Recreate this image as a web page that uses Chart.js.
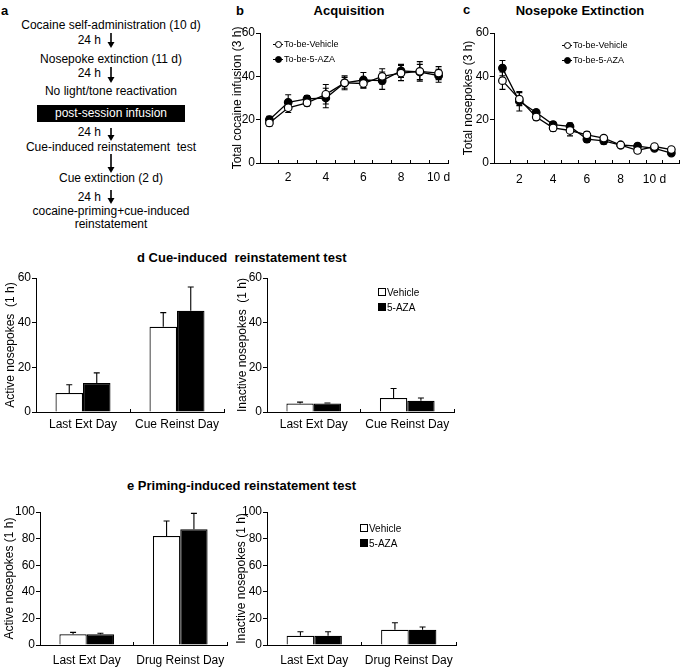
<!DOCTYPE html>
<html>
<head>
<meta charset="utf-8">
<script src="https://cdn.jsdelivr.net/npm/chart.js@4.4.1/dist/chart.umd.min.js"></script>
<style>
  body { margin:0; background:#fff; }
  #fig { position:relative; width:685px; height:667px; font-family:"Liberation Sans", Arial, sans-serif; color:#000; overflow:hidden; }
  #fig canvas { position:absolute; }
  #flow { position:absolute; left:0; top:0; }
  .flow { position:absolute; left:0; width:222px; text-align:center; font-size:12px; line-height:14px; white-space:pre; }
  .hrs { position:absolute; left:60px; width:41px; text-align:right; font-size:12px; line-height:14px; }
  .infuse { position:absolute; left:37px; top:105px; width:148px; height:17px; background:#000; color:#fff; text-align:center; font-size:12px; line-height:17px; }
  .lbl { position:absolute; font-weight:bold; font-size:13px; line-height:16px; white-space:pre; }
  .ctr { text-align:center; width:200px; }
  .leg { position:absolute; font-size:9px; line-height:14.5px; white-space:nowrap; }
  .leg .sym { display:inline-block; position:relative; width:10px; height:1px; background:#000; vertical-align:middle; margin-right:1px; }
  .leg .dot { position:absolute; left:2px; top:-3px; width:5px; height:5px; border:1px solid #000; border-radius:50%; box-sizing:content-box; }
  .bleg { position:absolute; font-size:10px; line-height:14.5px; white-space:nowrap; }
  .bleg .sq { display:inline-block; width:6px; height:6px; border:1px solid #000; vertical-align:middle; margin-right:1px; position:relative; top:-1px; }
</style>
</head>
<body>
<div id="fig">
  <!-- panel a: protocol -->
  <div class="lbl" style="left:1px;top:3px;">a</div>
  <div class="flow" style="top:18px;">Cocaine self-administration (10 d)</div>
  <div class="hrs" style="top:33px;">24 h</div>
  <div class="flow" style="top:52px;">Nosepoke extinction (11 d)</div>
  <div class="hrs" style="top:66px;">24 h</div>
  <div class="flow" style="top:84px;">No light/tone reactivation</div>
  <div class="infuse">post-session infusion</div>
  <div class="hrs" style="top:125px;">24 h</div>
  <div class="flow" style="top:140px;">Cue-induced reinstatement  test</div>
  <div class="flow" style="top:171px;">Cue extinction (2 d)</div>
  <div class="hrs" style="top:190px;">24 h</div>
  <div class="flow" style="top:204px;">cocaine-priming+cue-induced</div>
  <div class="flow" style="top:217px;">reinstatement</div>
  <svg id="flow" width="222" height="240"></svg>

  <!-- panel titles -->
  <div class="lbl" style="left:236px;top:3px;">b</div>
  <div class="lbl ctr" style="left:249px;top:3px;">Acquisition</div>
  <div class="lbl" style="left:463px;top:2px;">c</div>
  <div class="lbl ctr" style="left:480px;top:3px;">Nosepoke Extinction</div>
  <div class="lbl" style="left:137px;top:250px;">d Cue-induced  reinstatement test</div>
  <div class="lbl" style="left:127px;top:478px;">e Priming-induced reinstatement test</div>

  <canvas id="acqChart"></canvas>
  <canvas id="extChart"></canvas>
  <canvas id="cueActChart"></canvas>
  <canvas id="cueInaChart"></canvas>
  <canvas id="drugActChart"></canvas>
  <canvas id="drugInaChart"></canvas>

  <div class="leg" id="acqLeg" style="left:273px;top:37px;"></div>
  <div class="leg" id="extLeg" style="left:562px;top:38px;"></div>
  <div class="bleg" id="cueLeg" style="left:378px;top:286px;"></div>
  <div class="bleg" id="drugLeg" style="left:360px;top:522px;"></div>
</div>

<script>
"use strict";

/* ── Data: b / c line panels ── */
const acqDays = ['', '2', '', '4', '', '6', '', '8', '', '10 d'];
const extDays = ['', '2', '', '4', '', '6', '', '8', '', '10 d', ''];
const lineGroups = ['To-be-Vehicle', 'To-be-5-AZA'];

const acqVehicle    = [18.5, 25.5, 27.8, 31.7, 37.0, 36.7, 40.0, 41.5, 42.3, 41.5];
const acqVehicleErr = [1.5, 2.2, 1.5, 4.5, 2.5, 2.2, 3.5, 3.5, 4.5, 3.0];
const acqAza        = [20.0, 28.0, 29.6, 30.0, 37.0, 38.3, 38.0, 42.5, 42.0, 40.3];
const acqAzaErr     = [1.5, 3.5, 1.5, 4.5, 3.2, 3.5, 4.0, 3.0, 3.5, 3.0];

const extVehicle    = [38.0, 29.5, 21.2, 16.2, 15.0, 13.0, 11.5, 8.3, 5.8, 7.6, 6.2];
const extVehicleErr = [4.0, 3.0, 1.5, 1.5, 2.5, 1.5, 1.0, 1.0, 1.2, 1.0, 1.0];
const extAza        = [43.8, 28.5, 23.3, 17.7, 16.9, 11.0, 10.2, 8.3, 7.8, 6.8, 4.6];
const extAzaErr     = [3.5, 4.5, 1.2, 1.2, 1.5, 1.5, 1.5, 1.0, 1.0, 1.0, 1.0];

/* ── Data: d / e bar panels ── */
const barGroups = ['Vehicle', '5-AZA'];
const cueDays   = ['Last Ext Day', 'Cue Reinst Day'];
const drugDays  = ['Last Ext Day', 'Drug Reinst Day'];

const cueActVeh    = [8.5, 38.2];
const cueActVehErr = [3.7, 6.3];
const cueActAza    = [13.0, 45.3];
const cueActAzaErr = [4.5, 10.7];
const cueInaVeh    = [3.8, 6.3];
const cueInaVehErr = [0.6, 4.2];
const cueInaAza    = [3.8, 5.0];
const cueInaAzaErr = [0.2, 1.3];

const drugActVeh    = [8.0, 82.0];
const drugActVehErr = [1.5, 11.2];
const drugActAza    = [8.0, 87.0];
const drugActAzaErr = [0.8, 12.0];
const drugInaVeh    = [7.0, 11.5];
const drugInaVehErr = [3.0, 5.2];
const drugInaAza    = [7.0, 11.5];
const drugInaAzaErr = [3.0, 2.0];

/* ── Flow arrows (panel a) ── */
const arrows = [[33, 48], [67, 83], [128, 141], [154, 173], [190, 204]];
(function () {
  const svg = document.getElementById('flow');
  let s = '';
  arrows.forEach(([y1, y2]) => {
    s += `<line x1="111" y1="${y1}" x2="111" y2="${y2 - 5}" stroke="#000" stroke-width="1.6"/>`;
    s += `<polygon points="107.5,${y2 - 6} 114.5,${y2 - 6} 111,${y2}" fill="#000"/>`;
  });
  svg.innerHTML = s;
})();

/* ── Legends ── */
document.getElementById('acqLeg').innerHTML = lineGroups.map((g, i) =>
  `<div><span class="sym"><span class="dot" style="background:${i ? '#000' : '#fff'}"></span></span>${g}</div>`).join('');
document.getElementById('extLeg').innerHTML = document.getElementById('acqLeg').innerHTML;
const barLegend = barGroups.map((g, i) =>
  `<div><span class="sq" style="background:${i ? '#000' : '#fff'}"></span>${g}</div>`).join('');
document.getElementById('cueLeg').innerHTML = barLegend;
document.getElementById('drugLeg').innerHTML = barLegend;

/* ── Chart defaults ── */
Chart.defaults.font.family = '"Liberation Sans", Arial, sans-serif';
Chart.defaults.font.size = 12;
Chart.defaults.color = '#000';

/* ── Error bar plugin ── */
const errorBars = {
  id: 'errorBars',
  beforeDatasetsDraw(chart) {
    const ctx = chart.ctx, y = chart.scales.y;
    chart.data.datasets.forEach((ds, i) => {
      if (!ds.err) return;
      const meta = chart.getDatasetMeta(i);
      ctx.save();
      ctx.strokeStyle = '#000';
      ctx.lineWidth = 1.1;
      meta.data.forEach((el, j) => {
        const v = ds.data[j], e = ds.err[j];
        const top = y.getPixelForValue(v + e);
        const bot = y.getPixelForValue(ds.oneSided ? v : v - e);
        const x = el.x;
        ctx.beginPath();
        ctx.moveTo(x, top); ctx.lineTo(x, bot);
        ctx.moveTo(x - 3, top); ctx.lineTo(x + 3, top);
        if (!ds.oneSided) { ctx.moveTo(x - 3, bot); ctx.lineTo(x + 3, bot); }
        ctx.stroke();
      });
      ctx.restore();
    });
  }
};

/* ── Helpers ── */
function place(id, box) {
  const c = document.getElementById(id);
  c.width = box.w; c.height = box.h;
  c.style.left = box.x + 'px'; c.style.top = box.y + 'px';
  return c;
}
function noPad(s) { s.paddingTop = 0; s.paddingBottom = 0; s.paddingLeft = 0; s.paddingRight = 0; }

function yAxis(max, step, title, width, tickPad) {
  return {
    min: 0, max: max,
    ticks: { stepSize: step, padding: tickPad, font: { size: 12 } },
    grid: { drawOnChartArea: false, tickLength: 4, color: '#000', lineWidth: 1 },
    border: { display: true, color: '#000', width: 1 },
    title: { display: true, text: title, font: { size: 12 }, padding: { top: 0, bottom: 0 } },
    afterFit: s => { s.width = width; noPad(s); }
  };
}
function xAxis(tickPad, height) {
  return {
    offset: true,
    ticks: { padding: tickPad, autoSkip: false, maxRotation: 0, font: { size: 12 } },
    grid: { offset: true, drawOnChartArea: false, tickLength: -3, color: '#000', lineWidth: 1 },
    border: { display: true, color: '#000', width: 1 },
    afterFit: s => { s.height = height; noPad(s); }
  };
}

function lineChart(id, box, labels, vals, errs, yTitle) {
  return new Chart(place(id, box), {
    type: 'line',
    data: {
      labels: labels,
      datasets: vals.map((v, i) => ({
        label: lineGroups[i], data: v, err: errs[i],
        borderColor: '#000', borderWidth: 1.3, tension: 0, fill: false,
        pointRadius: 3.8, pointBorderWidth: 1.2, pointBorderColor: '#000',
        pointBackgroundColor: i ? '#000' : '#fff'
      }))
    },
    options: {
      responsive: false, animation: false,
      layout: { padding: box.pad },
      plugins: { legend: { display: false }, tooltip: { enabled: false } },
      scales: { x: xAxis(box.xPad, box.xh), y: yAxis(60, 20, yTitle, box.yw, 1) }
    },
    plugins: [errorBars]
  });
}

function barChart(id, box, labels, vals, errs, yMax, yTitle) {
  return new Chart(place(id, box), {
    type: 'bar',
    data: {
      labels: labels,
      datasets: vals.map((v, i) => ({
        label: barGroups[i], data: v, err: errs[i], oneSided: true,
        backgroundColor: i ? '#000' : '#fff', borderColor: '#000', borderWidth: 1.2,
        categoryPercentage: 0.585, barPercentage: 1
      }))
    },
    options: {
      responsive: false, animation: false,
      layout: { padding: box.pad },
      plugins: { legend: { display: false }, tooltip: { enabled: false } },
      scales: { x: xAxis(box.xPad, box.xh), y: yAxis(yMax, 20, yTitle, box.yw, 1) }
    },
    plugins: [errorBars]
  });
}

/* ── b: Acquisition ── */
lineChart('acqChart',
  { x: 226, y: 20, w: 234, h: 167, pad: { left: 4, top: 13, right: 12, bottom: 0 }, yw: 30, xh: 24, xPad: 10 },
  acqDays, [acqVehicle, acqAza], [acqVehicleErr, acqAzaErr], 'Total cocaine infusion (3 h)');

/* ── c: Nosepoke extinction ── */
lineChart('extChart',
  { x: 457, y: 20, w: 228, h: 167, pad: { left: 4, top: 13, right: 2, bottom: 0 }, yw: 33, xh: 24, xPad: 12 },
  extDays, [extVehicle, extAza], [extVehicleErr, extAzaErr], 'Total nosepokes (3 h)');

/* ── d: Cue-induced reinstatement ── */
barChart('cueActChart',
  { x: 0, y: 265, w: 228, h: 171, pad: { left: 3, top: 13, right: 4, bottom: 0 }, yw: 33, xh: 24, xPad: 8 },
  cueDays, [cueActVeh, cueActAza], [cueActVehErr, cueActAzaErr], 60, 'Active nosepokes  (1 h)');
barChart('cueInaChart',
  { x: 230, y: 265, w: 228, h: 171, pad: { left: 5, top: 13, right: 4, bottom: 0 }, yw: 32, xh: 24, xPad: 8 },
  cueDays, [cueInaVeh, cueInaAza], [cueInaVehErr, cueInaAzaErr], 60, 'Inactive nosepokes  (1 h)');

/* ── e: Priming-induced reinstatement ── */
barChart('drugActChart',
  { x: 0, y: 499, w: 230, h: 172, pad: { left: 2, top: 13, right: 3, bottom: 0 }, yw: 38, xh: 26, xPad: 11 },
  drugDays, [drugActVeh, drugActAza], [drugActVehErr, drugActAzaErr], 100, 'Active nosepokes (1 h)');
barChart('drugInaChart',
  { x: 230, y: 499, w: 230, h: 172, pad: { left: 4, top: 13, right: 4, bottom: 0 }, yw: 33, xh: 26, xPad: 11 },
  drugDays, [drugInaVeh, drugInaAza], [drugInaVehErr, drugInaAzaErr], 100, 'Inactive nosepokes (1 h)');
</script>
</body>
</html>
